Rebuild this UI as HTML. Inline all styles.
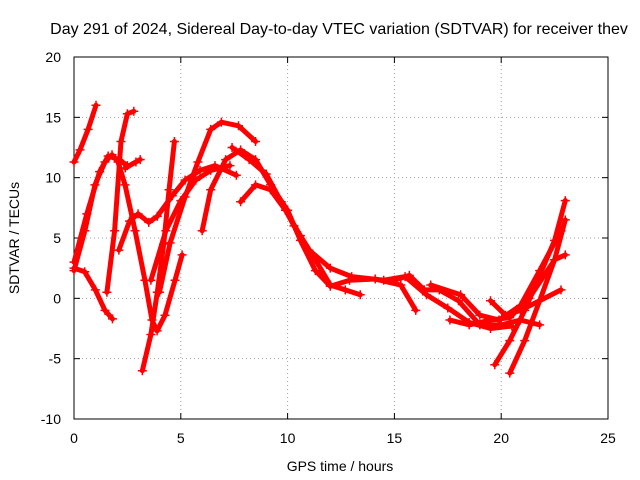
<!DOCTYPE html>
<html><head><meta charset="utf-8"><style>
html,body{margin:0;padding:0;background:#fff}
svg{display:block;font-family:"Liberation Sans",sans-serif}
</style></head><body>
<svg id="chart" width="640" height="480">
<rect width="640" height="480" fill="#fff"/>
<g id="grid"></g>
<g id="axes"></g>
<g id="series"></g>
<text x="339" y="34" font-size="16" text-anchor="middle">Day 291 of 2024, Sidereal Day-to-day VTEC variation (SDTVAR) for receiver thev</text>
<text x="340" y="471" font-size="14" text-anchor="middle">GPS time / hours</text>
<text transform="translate(19,238) rotate(-90)" font-size="14" text-anchor="middle">SDTVAR / TECUs</text>
</svg>
<script>
const xTicks=[0,5,10,15,20,25];
const yTicks=[-10,-5,0,5,10,15,20];
const trackA=[[0,11.3],[0.28,12.3],[0.66,14],[1.03,16]];
const trackB=[[0,2.3],[0.51,5.6],[0.98,9.4],[1.45,11.3],[1.78,11.9],[2.06,11.3],[2.39,9.4],[2.86,5.6],[3.32,1.5],[3.65,-1.8],[3.89,-2.7],[4.26,-1.4],[4.73,1.5],[5.06,3.6]];
const trackC=[[0,3],[0.6,7],[1.2,10.5],[1.6,11.8],[2.1,11.5],[2.5,11]];
const trackD=[[0,2.5],[0.5,2.2],[1,0.7],[1.45,-1],[1.8,-1.7]];
const trackE=[[1.54,0.5],[1.9,5.6],[2.2,13],[2.5,15.3],[2.8,15.5]];
const trackF=[[2.4,10.8],[2.9,11.3],[3.1,11.5]];
const trackG=[[2.1,4],[2.6,6.4],[3.0,7],[3.5,6.3],[3.9,6.8],[4.6,8.5],[5.2,9.8],[5.9,10.6],[6.6,11],[7.6,10.2]];
const trackH=[[3.2,-6],[3.6,-3],[3.9,0.5],[4.2,4.5],[4.45,9],[4.7,13]];
const trackI=[[4,0.5],[4.5,4.6],[5.2,8.4],[5.8,11.3],[6.4,14],[6.9,14.6],[7.7,14.3],[8.5,13]];
const trackJ=[[6,5.6],[6.4,9],[7.1,11.5],[7.8,12.3],[8.5,11.5],[9.2,9.4],[10,7.3],[10.6,4.8],[11.3,2.3],[12,1],[12.9,1.5],[14.1,1.6],[15.3,1.1],[16,-1]];
const trackK=[[7.8,8],[8.5,9.4],[9.2,9],[9.9,7.3],[10.6,5.2],[11.3,3.2],[12,1.1],[12.7,0.7],[13.4,0.3]];
const trackL=[[3.6,1.5],[4.3,5.6],[5,8.1],[5.7,9.8],[6.4,10.6],[7.3,11]];
const trackM=[[15,1.5],[15.7,1.9],[16.4,0.7],[17.1,0.7],[18,-0.2],[19,-2.2],[20,-2.2],[20.9,-1.8],[21.8,-2.2]];
const trackN=[[19.7,-5.5],[20.4,-3.5],[21.1,-1],[21.8,1.9],[22.5,4.8],[23,8.1]];
const trackO=[[20.4,-6.2],[21.1,-3.5],[21.8,-0.2],[22.5,3.2],[23,6.5]];
const trackP=[[19.5,-0.2],[20.2,-1.4],[20.9,-1],[21.8,-0.2],[22.8,0.7]];
const trackQ=[[16.7,1.1],[18.1,0.3],[19,-1.4],[19.9,-1.8],[20.9,-0.6],[21.8,2.3],[22.8,5.6]];
const trackR=[[17.6,-1.8],[18.5,-2.2],[19.5,-1.8],[20.4,-1.6],[21.3,0],[22.5,3.2],[23,3.6]];
const trackS=[[7.4,12.5],[8.2,11.5],[9,10.3],[9.7,8],[10.3,6],[11,4],[12,2.5],[13,1.8],[14.5,1.5],[15.5,1.8],[16.5,0.3],[17.5,-0.8],[18.5,-2],[19.5,-2.5],[20.5,-2.3]];
const tracks=[trackA,trackB,trackC,trackD,trackE,trackF,trackG,trackH,trackI,trackJ,trackK,trackL,trackM,trackN,trackO,trackP,trackQ,trackR,trackS];

const L=74,R=608,T=57,B=419;
const xs=v=>L+(v-0)/(25-0)*(R-L);
const ys=v=>B-(v+10)/30*(B-T);
const NS='http://www.w3.org/2000/svg';
function mk(tag,attrs,parent){const e=document.createElementNS(NS,tag);for(const k in attrs)e.setAttribute(k,attrs[k]);parent.appendChild(e);return e;}
const grid=document.getElementById('grid'),axes=document.getElementById('axes'),series=document.getElementById('series');
xTicks.forEach(t=>{
  const x=xs(t);
  if(t>0&&t<25){const g=mk('line',{x1:x,x2:x,y1:T,y2:B,stroke:'#a0a0a0','stroke-dasharray':'1,3'},grid);
  
  }
  mk('line',{x1:x,x2:x,y1:B,y2:B-6,stroke:'#000'},axes);
  mk('line',{x1:x,x2:x,y1:T,y2:T+6,stroke:'#000'},axes);
  const tx=mk('text',{x:x,y:443,'font-size':14,'text-anchor':'middle'},axes);
  tx.textContent=t;
  
  
});
yTicks.forEach(t=>{
  const y=ys(t);
  if(t>-10&&t<20){const g=mk('line',{x1:L,x2:R,y1:y,y2:y,stroke:'#a0a0a0','stroke-dasharray':'1,3'},grid);
  
  }
  mk('line',{x1:L,x2:L+6,y1:y,y2:y,stroke:'#000'},axes);
  mk('line',{x1:R,x2:R-6,y1:y,y2:y,stroke:'#000'},axes);
  const tx=mk('text',{x:61,y:y+5,'font-size':14,'text-anchor':'end'},axes);
  tx.textContent=t;
  
  
});
const fr=mk('rect',{x:L,y:T,width:R-L,height:B-T,fill:'none',stroke:'#000'},axes);


tracks.forEach(tr=>{
  const pts=tr.map(p=>xs(p[0])+','+ys(p[1])).join(' ');
  const pl=mk('polyline',{points:pts,fill:'none',stroke:'#ff0000','stroke-width':5,'stroke-linejoin':'round','stroke-linecap':'round'},series);
  
  
  tr.forEach(p=>{
    const x=xs(p[0]),y=ys(p[1]);
    const m=mk('path',{d:`M${x-4.5},${y}H${x+4.5}M${x},${y-4.5}V${y+4.5}`,stroke:'#ff0000','stroke-width':1.5},series);
    
    
  });
});
</script>
</body></html>
